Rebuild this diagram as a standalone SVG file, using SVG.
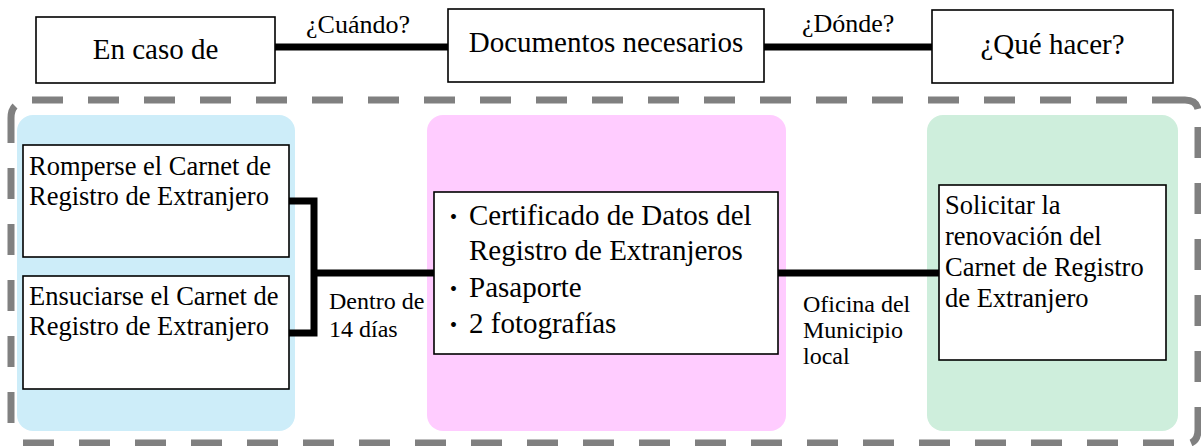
<svg xmlns="http://www.w3.org/2000/svg" width="1201" height="446" viewBox="0 0 1201 446">
<style>
  .t { font-family: "Liberation Serif", "Times New Roman", serif; fill: #000; }
  .b { font-family: "Noto Sans CJK JP", "Liberation Serif", sans-serif; font-size: 23px; }
  .box { fill: #fff; stroke: #000; stroke-width: 1.6; }
  .conn { stroke: #000; stroke-width: 7; fill: none; stroke-linejoin: miter; stroke-linecap: butt; }
  .dash { stroke: #808080; stroke-width: 7; fill: none; stroke-dasharray: 31 25; }
  .dashc { stroke: #808080; stroke-width: 7; fill: none; }
  .f29 { font-size: 29px; }
  .f26 { font-size: 26.5px; }
  .f24 { font-size: 24px; }
  .q { font-size: 26px; }
</style>
<rect x="0" y="0" width="1201" height="446" fill="#fff"/>

<g id="border">
  <path class="dash" d="M32 100 H1150"/>
  <path class="dashc" d="M1152 100 H1185 Q1196 100 1198 109"/>
  <path class="dash" d="M1198 127 V390"/>
  <path class="dashc" d="M1198 407 V430 Q1198 440 1191 443"/>
  <path class="dash" d="M23 443 H1180"/>
  <path class="dash" d="M11 168 V428"/>
  <path class="dashc" d="M11 143 V118 Q11 110 15 106"/>
</g>

<g id="panel-blue"><rect x="17" y="115" width="278" height="316" rx="16" fill="#CDEDF9"/></g>
<g id="panel-pink"><rect x="427" y="115" width="359" height="316" rx="16" fill="#FFCCFF"/></g>
<g id="panel-green"><rect x="927" y="115" width="251" height="316" rx="16" fill="#CEEEDC"/></g>

<g id="connectors">
  <path class="conn" d="M275 47 H448"/>
  <path class="conn" d="M764 47 H932"/>
  <path class="conn" d="M289 201 H314 V333 H289"/>
  <path class="conn" d="M314 273 H434"/>
  <path class="conn" d="M778 273 H939"/>
  <text class="t q" x="306" y="33">¿Cuándo?</text>
  <text class="t q" x="802" y="32">¿Dónde?</text>
  <text class="t f24" x="329" y="309">Dentro de</text>
  <text class="t f24" x="329" y="337">14 días</text>
  <text class="t f24" x="803" y="312">Oficina del</text>
  <text class="t f24" x="803" y="338">Municipio</text>
  <text class="t f24" x="803" y="364">local</text>
</g>

<g id="n-en-caso">
  <rect class="box" x="36" y="17" width="239" height="66"/>
  <text class="t f29" x="155.5" y="59" text-anchor="middle">En caso de</text>
</g>
<g id="n-documentos">
  <rect class="box" x="448" y="9" width="316" height="73"/>
  <text class="t f29" x="606" y="52" text-anchor="middle">Documentos necesarios</text>
</g>
<g id="n-que-hacer">
  <rect class="box" x="932" y="10" width="241" height="73"/>
  <text class="t f29" x="1052.5" y="54" text-anchor="middle">¿Qué hacer?</text>
</g>

<g id="n-romperse">
  <rect class="box" x="23" y="145" width="266" height="112"/>
  <text class="t f26" x="29" y="175">Romperse el Carnet de</text>
  <text class="t f26" x="29" y="205">Registro de Extranjero</text>
</g>
<g id="n-ensuciarse">
  <rect class="box" x="23" y="276" width="266" height="113"/>
  <text class="t f26" x="29" y="305">Ensuciarse el Carnet de</text>
  <text class="t f26" x="29" y="335">Registro de Extranjero</text>
</g>
<g id="n-certificado">
  <rect class="box" x="434" y="192" width="344" height="162"/>
  <text class="t f29" y="225"><tspan class="b" x="442">・</tspan><tspan x="469">Certificado de Datos del</tspan></text>
  <text class="t f29" x="469" y="260">Registro de Extranjeros</text>
  <text class="t f29" y="297"><tspan class="b" x="442">・</tspan><tspan x="469">Pasaporte</tspan></text>
  <text class="t f29" y="333"><tspan class="b" x="442">・</tspan><tspan x="469">2 fotografías</tspan></text>
</g>
<g id="n-solicitar">
  <rect class="box" x="939" y="185" width="227" height="175"/>
  <text class="t f26" x="945" y="214">Solicitar la</text>
  <text class="t f26" x="945" y="245">renovación del</text>
  <text class="t f26" x="945" y="276">Carnet de Registro</text>
  <text class="t f26" x="945" y="307">de Extranjero</text>
</g>
</svg>
